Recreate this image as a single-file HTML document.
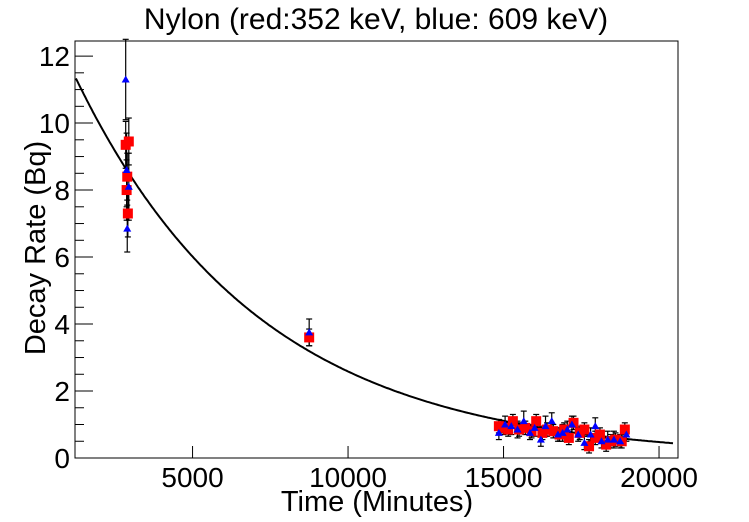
<!DOCTYPE html>
<html><head><meta charset="utf-8">
<style>
html,body{margin:0;padding:0;background:#fff;}
svg{display:block;font-family:"Liberation Sans",Arial,sans-serif;}
</style></head>
<body>
<svg id="chart" width="749" height="522" xmlns="http://www.w3.org/2000/svg">
<rect x="0" y="0" width="749" height="522" fill="#fff"/>
<text x="376" y="29" text-anchor="middle" font-size="30">Nylon (red:352 keV, blue: 609 keV)</text>
<g id="plot"></g>
<text x="377" y="511" text-anchor="middle" font-size="29">Time (Minutes)</text>
<text transform="translate(45,248) rotate(-90)" text-anchor="middle" font-size="29">Decay Rate (Bq)</text>
</svg>
<script>
const xTicks = [5000, 10000, 15000, 20000];
const yTicks = [0, 2, 4, 6, 8, 10, 12];
const fitA0 = 14.0;
const fitK = 0.000169;
const redT = [2850, 2880, 2900, 2920, 2950, 8750, 14850, 15000, 15150, 15300, 15500, 15700, 15900, 16050, 16250, 16400, 16600, 16800, 16950, 17100, 17250, 17450, 17600, 17750, 17950, 18100, 18300, 18450, 18600, 18800, 18900];
const redV = [9.35, 8.0, 8.4, 7.3, 9.45, 3.6, 0.95, 0.9, 0.85, 1.1, 0.85, 0.9, 0.8, 1.1, 0.75, 0.85, 0.8, 0.7, 0.85, 0.6, 1.05, 0.75, 0.85, 0.35, 0.6, 0.7, 0.4, 0.5, 0.55, 0.5, 0.85];
const blueT = [2850, 2880, 2900, 2950, 8750, 14850, 15050, 15250, 15450, 15650, 15850, 16000, 16200, 16350, 16550, 16750, 16900, 17050, 17200, 17400, 17600, 17800, 17950, 18150, 18350, 18550, 18750, 18950];
const blueV = [11.3, 8.6, 6.85, 8.1, 3.75, 0.75, 1.0, 0.95, 0.85, 1.1, 0.75, 0.9, 0.55, 0.95, 1.1, 0.7, 0.75, 0.85, 1.0, 0.7, 0.45, 0.7, 0.95, 0.5, 0.55, 0.55, 0.5, 0.7];
const redErr = [0.7, 0.9, 0.7, 0.7, 0.7, 0.25, 0.2, 0.2, 0.2, 0.2, 0.2, 0.2, 0.2, 0.2, 0.2, 0.2, 0.2, 0.2, 0.2, 0.2, 0.2, 0.2, 0.2, 0.2, 0.2, 0.2, 0.2, 0.2, 0.2, 0.2, 0.2];
const blueErr = [1.2, 1.1, 0.7, 1.0, 0.4, 0.2, 0.25, 0.25, 0.25, 0.3, 0.2, 0.25, 0.2, 0.3, 0.25, 0.2, 0.25, 0.25, 0.25, 0.2, 0.2, 0.2, 0.25, 0.2, 0.25, 0.25, 0.2, 0.2];

const L=75, R=678, T=41, B=458;
const xMin=1220, xMax=20610, yMin=0, yMax=12.45;
const sx = v => L + (v-xMin)/(xMax-xMin)*(R-L);
const sy = v => B - (v-yMin)/(yMax-yMin)*(B-T);
const NS="http://www.w3.org/2000/svg";
const plot=document.getElementById('plot');
function mk(tag, attrs, parent){const e=document.createElementNS(NS,tag);for(const k in attrs)e.setAttribute(k,attrs[k]);(parent||plot).appendChild(e);return e;}

let frame=mk('rect',{x:L,y:T,width:R-L,height:B-T,fill:'none',stroke:'#000','stroke-width':1});



xTicks.forEach(v=>{
  const t=mk('line',{x1:sx(v),x2:sx(v),y1:B,y2:B-12,stroke:'#000'});
  
  
  const l=mk('text',{x:sx(v),y:B+29,'text-anchor':'middle','font-size':28});
  l.textContent=v;
  
  
});
for(let v=0; v<=12.01; v+=0.5){
  const major = Math.abs(v-Math.round(v/2)*2)<1e-6;
  const t=mk('line',{x1:L,x2:L+(major?18:9),y1:sy(v),y2:sy(v),stroke:'#000'});
  
  
}
yTicks.forEach(v=>{
  const l=mk('text',{x:L-5,y:sy(v)+10,'text-anchor':'end','font-size':28});
  l.textContent=v;
  
  
});

let d='';
for(let t=xMin+30; t<=20450; t+=50){d+=(d?'L':'M')+sx(t).toFixed(1)+','+sy(fitA0*Math.exp(-fitK*t)).toFixed(1);}
const curve=mk('path',{d:d,fill:'none',stroke:'#000','stroke-width':2});



function errbar(t,v,e){
  const x=sx(t);
  const g=mk('g',{stroke:'#000','stroke-width':1.2});
  
  
  mk('line',{x1:x,x2:x,y1:sy(v+e),y2:sy(v-e)},g);
  mk('line',{x1:x-3,x2:x+3,y1:sy(v+e),y2:sy(v+e)},g);
  mk('line',{x1:x-3,x2:x+3,y1:sy(v-e),y2:sy(v-e)},g);
}
redT.forEach((t,i)=>errbar(t,redV[i],redErr[i]));
blueT.forEach((t,i)=>errbar(t,blueV[i],blueErr[i]));
redT.forEach((t,i)=>{
  const r=mk('rect',{x:sx(t)-5,y:sy(redV[i])-5,width:10,height:10,fill:'#f00'});
  
  
});
blueT.forEach((t,i)=>{
  const x=sx(t), y=sy(blueV[i]);
  const p=mk('polygon',{points:`${x},${y-4} ${x-4},${y+3} ${x+4},${y+3}`,fill:'#00f'});
  
  
});
</script>
</body></html>
